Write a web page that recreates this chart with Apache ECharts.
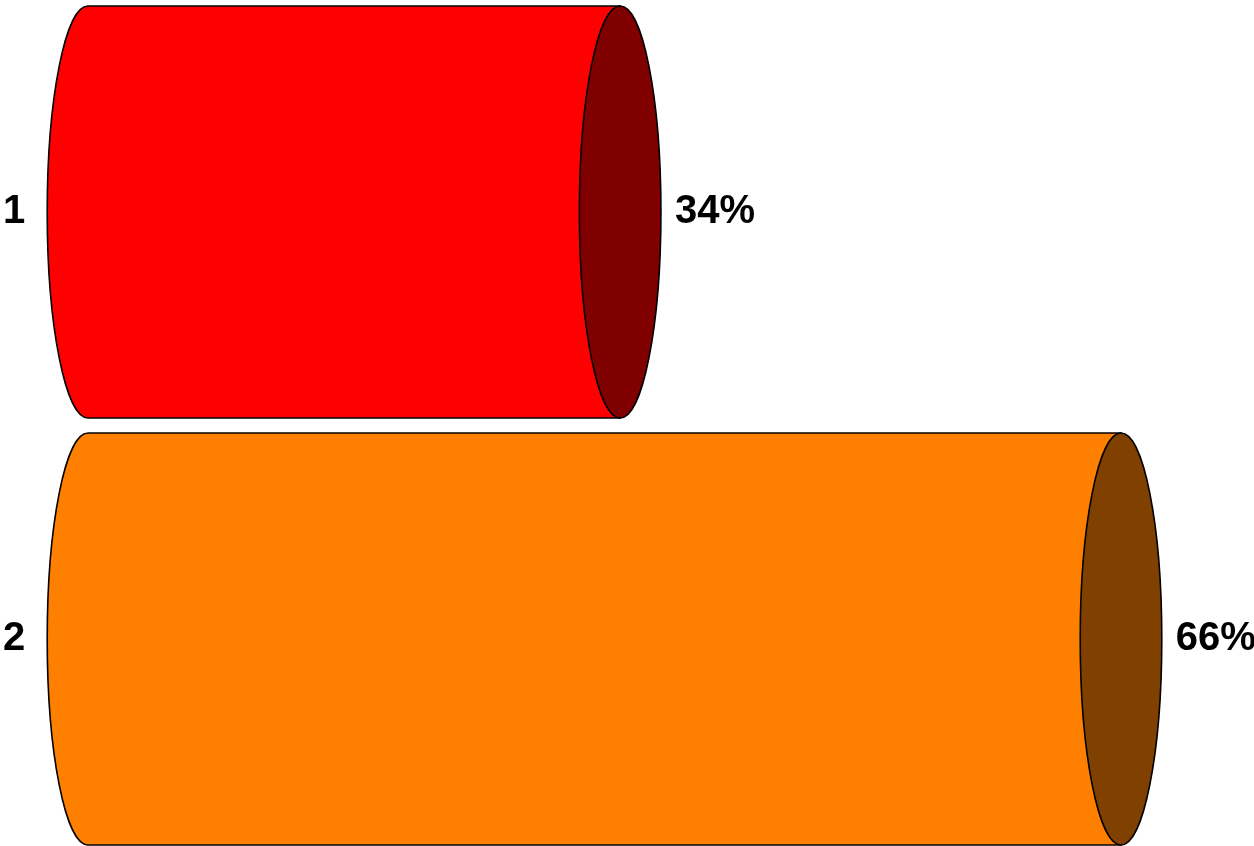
<!DOCTYPE html>
<html>
<head>
<meta charset="utf-8">
<script src="https://cdn.jsdelivr.net/npm/echarts@6/dist/echarts.min.js"></script>
<style>html,body{margin:0;padding:0;background:#fff;}#c{width:1254px;height:846px;}</style>
</head>
<body>
<div id="c"></div>
<script>
const categories = ['1', '2'];
const values = [34, 66];
const bodyColors = ['#FF0000', '#FF8000'];
const faceColors = ['#800000', '#804000'];

const chart = echarts.init(document.getElementById('c'), null, {renderer: 'canvas'});
const FONT = 'Arial, "Liberation Sans", sans-serif';

chart.setOption({
  animation: false,
  grid: {left: 88, right: 133, top: -1.5, height: 854, containLabel: false, outerBoundsMode: 'none'},
  xAxis: {type: 'value', min: 0, max: 66, show: false},
  yAxis: {
    type: 'category', data: categories, inverse: true,
    axisLine: {show: false}, axisTick: {show: false}, splitLine: {show: false},
    axisLabel: {
      align: 'left', margin: 85, fontSize: 40, fontWeight: 'bold',
      color: '#000', fontFamily: FONT
    }
  },
  series: [{
    type: 'custom',
    clip: false,
    data: values.map((v, i) => [v, i]),
    encode: {x: 0, y: 1},
    renderItem: function (params, api) {
      const v = api.value(0), idx = api.value(1);
      const p0 = api.coord([0, idx]);
      const p1 = api.coord([v, idx]);
      const band = api.size([0, 1])[1];
      const h = band * 412 / 427;
      const ry = h / 2;
      const rx = h * 0.099;
      const k = 0.5523;
      const x0 = p0[0], x1 = p1[0], cy = p0[1];
      const yT = cy - ry, yB = cy + ry;
      const d = 'M' + x0 + ',' + yT + ' L' + x1 + ',' + yT + ' L' + x1 + ',' + yB +
        ' L' + x0 + ',' + yB +
        ' C' + (x0 - k * rx) + ',' + yB + ' ' + (x0 - rx) + ',' + (cy + k * ry) + ' ' + (x0 - rx) + ',' + cy +
        ' C' + (x0 - rx) + ',' + (cy - k * ry) + ' ' + (x0 - k * rx) + ',' + yT + ' ' + x0 + ',' + yT + ' Z';
      return {
        type: 'group',
        children: [
          {
            type: 'path',
            shape: {pathData: d},
            style: {fill: bodyColors[idx], stroke: '#000', lineWidth: 1.6}
          },
          {
            type: 'ellipse',
            shape: {cx: x1, cy: cy, rx: rx, ry: ry},
            style: {fill: faceColors[idx], stroke: '#000', lineWidth: 1.6}
          },
          {
            type: 'text',
            x: x1 + rx + 14, y: cy,
            style: {
              text: v + '%', fill: '#000', fontSize: 40, fontWeight: 'bold',
              fontFamily: FONT, align: 'left', verticalAlign: 'middle'
            }
          }
        ]
      };
    }
  }]
});
</script>
</body>
</html>
